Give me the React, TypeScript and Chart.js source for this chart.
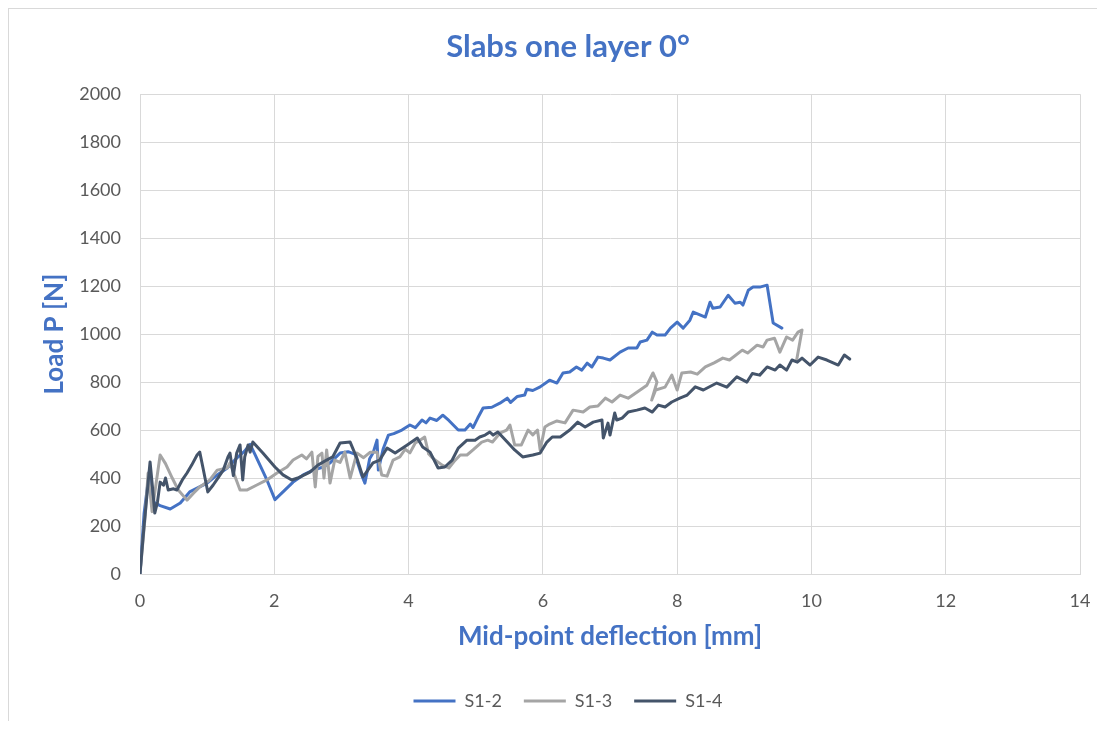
import React, { useEffect, useRef } from 'react';
import { Chart, registerables } from 'chart.js';

Chart.register(...registerables);

const seriesNames = ['S1-2', 'S1-3', 'S1-4'];
const seriesColors = ['#4472C4', '#A5A5A5', '#44546A'];

const xS12 = [0, 0.06, 0.14, 0.2, 0.3, 0.45, 0.6, 0.74, 0.85, 1.0, 1.15, 1.3, 1.44, 1.55, 1.64, 1.71, 1.89, 2.01, 2.13, 2.28, 2.43, 2.58, 2.73, 2.83, 2.98, 3.1, 3.2, 3.3, 3.35, 3.42, 3.47, 3.53, 3.55, 3.62, 3.7, 3.78, 3.9, 4.02, 4.1, 4.2, 4.26, 4.32, 4.42, 4.51, 4.6, 4.74, 4.84, 4.92, 4.96, 5.03, 5.11, 5.24, 5.36, 5.47, 5.52, 5.62, 5.73, 5.76, 5.85, 5.96, 6.1, 6.21, 6.3, 6.4, 6.5, 6.58, 6.66, 6.73, 6.82, 6.9, 7.0, 7.15, 7.27, 7.4, 7.45, 7.55, 7.63, 7.7, 7.82, 7.9, 8.0, 8.09, 8.19, 8.24, 8.42, 8.49, 8.53, 8.64, 8.76, 8.86, 8.94, 8.98, 9.06, 9.13, 9.23, 9.34, 9.43, 9.56];
const yS12 = [0, 250, 430, 300, 285, 271, 296, 342, 358, 379, 413, 442, 483, 510, 540, 500, 392, 310, 342, 383, 413, 433, 446, 463, 504, 510, 500, 413, 379, 480, 504, 558, 433, 520, 579, 585, 600, 621, 610, 642, 630, 650, 640, 662, 640, 600, 600, 625, 610, 650, 692, 695, 712, 733, 715, 740, 746, 770, 765, 780, 808, 796, 838, 842, 863, 850, 879, 863, 904, 900, 892, 925, 942, 942, 967, 975, 1008, 996, 996, 1025, 1050, 1025, 1058, 1092, 1071, 1133, 1108, 1113, 1162, 1129, 1133, 1121, 1183, 1196, 1196, 1204, 1046, 1025];

const xS13 = [0, 0.08, 0.12, 0.18, 0.3, 0.38, 0.48, 0.57, 0.7, 0.8, 0.89, 1.04, 1.15, 1.3, 1.34, 1.49, 1.59, 1.74, 1.89, 2.04, 2.19, 2.28, 2.41, 2.48, 2.56, 2.61, 2.65, 2.71, 2.74, 2.78, 2.83, 2.9, 2.98, 3.05, 3.13, 3.23, 3.33, 3.43, 3.53, 3.6, 3.68, 3.77, 3.87, 3.95, 4.02, 4.1, 4.17, 4.24, 4.3, 4.36, 4.5, 4.6, 4.68, 4.77, 4.87, 4.96, 5.09, 5.18, 5.25, 5.36, 5.46, 5.51, 5.58, 5.68, 5.78, 5.85, 5.92, 5.96, 6.03, 6.1, 6.21, 6.33, 6.45, 6.6, 6.7, 6.82, 6.93, 7.03, 7.15, 7.27, 7.4, 7.55, 7.64, 7.7, 7.62, 7.68, 7.82, 7.92, 8.0, 8.07, 8.2, 8.3, 8.42, 8.55, 8.68, 8.78, 8.97, 9.05, 9.19, 9.28, 9.34, 9.45, 9.53, 9.63, 9.72, 9.8, 9.86, 9.78];
const yS13 = [0, 250, 420, 260, 496, 460, 400, 350, 308, 338, 363, 392, 433, 442, 463, 350, 350, 371, 392, 421, 446, 475, 496, 480, 508, 363, 490, 504, 400, 517, 379, 475, 465, 508, 400, 504, 485, 508, 508, 413, 408, 475, 488, 520, 505, 546, 558, 571, 500, 483, 454, 442, 470, 496, 496, 517, 550, 558, 550, 587, 600, 621, 538, 538, 600, 580, 600, 517, 613, 625, 638, 630, 683, 675, 696, 700, 733, 717, 746, 733, 758, 787, 838, 800, 725, 767, 779, 829, 767, 838, 842, 833, 863, 880, 900, 892, 933, 921, 954, 946, 975, 983, 925, 988, 975, 1008, 1017, 892];

const xS14 = [0, 0.06, 0.15, 0.19, 0.22, 0.26, 0.3, 0.35, 0.38, 0.42, 0.5, 0.55, 0.63, 0.7, 0.77, 0.85, 0.89, 0.94, 1.01, 1.09, 1.16, 1.24, 1.31, 1.34, 1.39, 1.44, 1.49, 1.53, 1.56, 1.61, 1.64, 1.68, 1.83, 2.01, 2.13, 2.26, 2.35, 2.53, 2.65, 2.78, 2.87, 2.98, 3.13, 3.23, 3.32, 3.47, 3.57, 3.68, 3.8, 3.98, 4.13, 4.21, 4.32, 4.44, 4.54, 4.65, 4.74, 4.87, 4.99, 5.06, 5.14, 5.21, 5.26, 5.33, 5.47, 5.58, 5.7, 5.85, 5.96, 6.06, 6.14, 6.26, 6.4, 6.52, 6.63, 6.75, 6.88, 6.9, 6.97, 7.0, 7.07, 7.1, 7.18, 7.27, 7.4, 7.52, 7.63, 7.72, 7.82, 7.92, 8.04, 8.15, 8.27, 8.39, 8.59, 8.74, 8.89, 9.04, 9.12, 9.23, 9.34, 9.46, 9.53, 9.63, 9.71, 9.79, 9.86, 9.98, 10.1, 10.23, 10.4, 10.49, 10.57];
const yS14 = [0, 200, 467, 350, 254, 300, 383, 370, 400, 350, 355, 350, 392, 421, 454, 496, 508, 440, 342, 371, 400, 433, 488, 504, 410, 504, 538, 392, 488, 538, 508, 550, 504, 446, 413, 392, 400, 425, 454, 475, 488, 546, 550, 483, 404, 463, 475, 525, 504, 538, 567, 529, 508, 442, 446, 475, 525, 558, 558, 571, 579, 592, 579, 592, 550, 517, 488, 496, 504, 550, 571, 571, 600, 633, 613, 633, 642, 567, 629, 579, 671, 642, 650, 675, 683, 692, 675, 704, 696, 717, 733, 746, 780, 767, 796, 779, 822, 800, 836, 829, 863, 850, 871, 850, 892, 883, 900, 871, 904, 892, 871, 913, 896];

const xTickStep = 2;
const yTickStep = 200;

const FONT = 'Lato';
const W = 1118;
const H = 712;

function pts(xs: number[], ys: number[]) {
  return xs.map((x, i) => ({ x, y: ys[i] }));
}

export default function App() {
  const ref = useRef<HTMLCanvasElement>(null);
  useEffect(() => {
    const allX = [xS12, xS13, xS14];
    const allY = [yS12, yS13, yS14];
    const chart = new Chart(ref.current as HTMLCanvasElement, {
      type: 'scatter',
      data: {
        datasets: seriesNames.map((name, i) => ({
          label: name,
          data: pts(allX[i], allY[i]),
          showLine: true,
          borderColor: seriesColors[i],
          backgroundColor: seriesColors[i],
          borderWidth: 3,
          pointRadius: 0,
          pointHoverRadius: 0,
          tension: 0,
          borderJoinStyle: 'round',
          borderCapStyle: 'round',
          order: 2 - i,
        })),
      },
      options: {
        animation: false,
        responsive: false,
        devicePixelRatio: 1,
        layout: { padding: { left: 0, right: 0, top: 0, bottom: 1 } },
        plugins: {
          tooltip: { enabled: false },
          title: {
            display: true,
            text: 'Slabs one layer 0°',
            color: '#4472C4',
            font: { family: FONT, size: 31, weight: 'bold' },
            padding: { top: 19, bottom: 29 },
          },
          legend: {
            position: 'bottom',
            labels: {
              usePointStyle: true,
              pointStyle: 'line',
              pointStyleWidth: 42,
              color: '#595959',
              font: { family: FONT, size: 18 },
              padding: 22,
              sort: (a: any, b: any) => a.datasetIndex - b.datasetIndex,
            },
          },
        },
        scales: {
          x: {
            type: 'linear',
            min: 0,
            max: 14,
            ticks: {
              stepSize: xTickStep,
              color: '#595959',
              font: { family: FONT, size: 18 },
              padding: 16,
              callback: (v: any) => String(v),
            },
            grid: { color: '#d9d9d9', lineWidth: 1, drawTicks: false },
            border: { color: '#d9d9d9' },
            title: {
              display: true,
              text: 'Mid-point deflection [mm]',
              color: '#4472C4',
              font: { family: FONT, size: 26, weight: 'bold' },
              padding: { top: 0, bottom: 18 },
            },
            afterFit: (s: any) => {
              s.height = 96;
              s.paddingRight = 47;
            },
          },
          y: {
            type: 'linear',
            min: 0,
            max: 2000,
            ticks: {
              stepSize: yTickStep,
              color: '#595959',
              font: { family: FONT, size: 18 },
              padding: 19,
              callback: (v: any) => String(v),
            },
            grid: { color: '#d9d9d9', lineWidth: 1, drawTicks: false },
            border: { color: '#d9d9d9' },
            title: {
              display: true,
              text: 'Load P [N]',
              color: '#4472C4',
              font: { family: FONT, size: 26, weight: 'bold' },
              padding: { top: 30, bottom: 0 },
            },
            afterFit: (s: any) => {
              s.width = 131;
            },
          },
        },
      } as any,
    });
    return () => chart.destroy();
  }, []);

  return (
    <div
      style={{
        width: 1097,
        height: H + 1,
        boxSizing: 'border-box',
        borderTop: '1px solid #d9d9d9',
        borderLeft: '1px solid #d9d9d9',
        position: 'relative',
        background: '#fff',
        overflow: 'hidden',
      }}
    >
      <canvas
        ref={ref}
        width={W}
        height={H}
        style={{ position: 'absolute', left: 0, top: 0, width: W, height: H, display: 'block' }}
      />
    </div>
  );
}
